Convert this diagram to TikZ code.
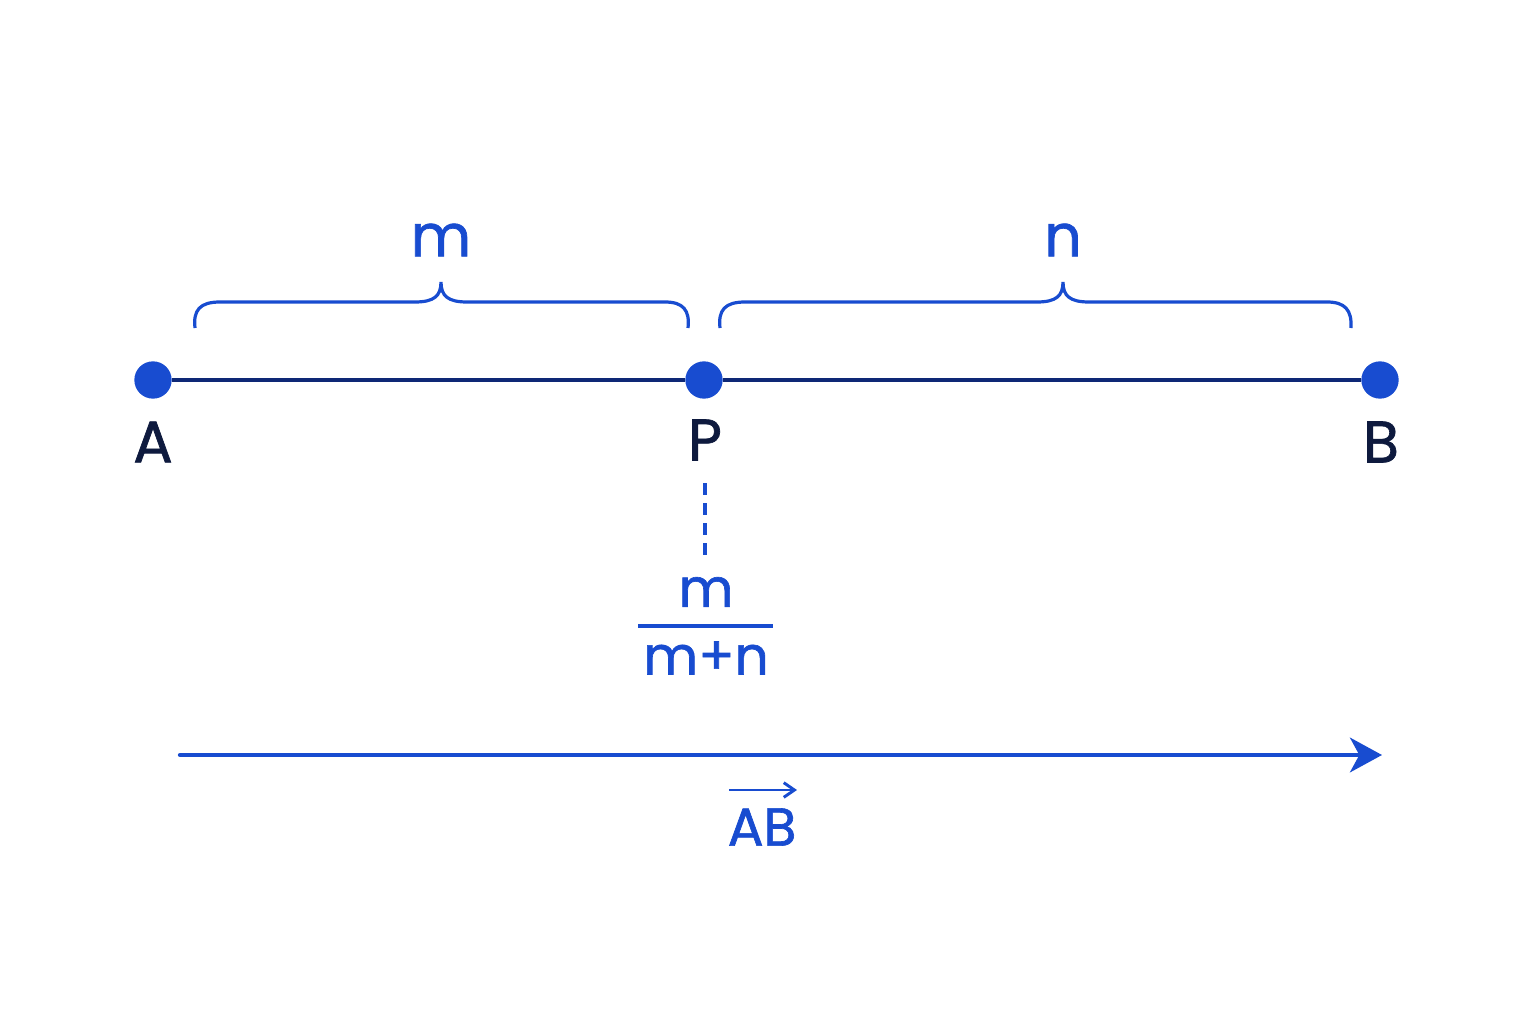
\documentclass[tikz,border=0pt]{standalone}
\usepackage{fontspec}
\setmainfont{Poppins}[AutoFakeBold=1.2]
\usetikzlibrary{arrows.meta}
\definecolor{ptblue}{RGB}{24,76,208}
\definecolor{segnavy}{RGB}{14,40,118}
\definecolor{lblnavy}{RGB}{14,26,62}
\tikzset{every picture/.style={line width=0.75pt}}
\tikzset{
  pt/.style={circle,fill=ptblue,inner sep=0pt,minimum size=28},
  lbl/.style={text=lblnavy,inner sep=0.75pt,font=\fontsize{44}{46}\selectfont\bfseries},
  blu/.style={text=ptblue,inner sep=0.75pt,font=\fontsize{44}{46}\selectfont\bfseries},
  brace/.style={draw=ptblue,line width=2.4pt},
}
\begin{document}
\begin{tikzpicture}[x=0.75pt,y=0.75pt,yscale=-1,xscale=1]
\useasboundingbox[fill=white] (0,0) rectangle (1536,1024);

% Points
\node[pt] (A) at (153,380) {};
\node[pt] (P) at (704,380) {};
\node[pt] (B) at (1380,380) {};
%Straight Lines
\draw[segnavy,line width=3.4pt] (A) -- (P) -- (B);

% Text Node
\node[lbl] (lA) at (153,442) {A};
\node[lbl] (lP) at (705,440) {P};
\node[lbl] (lB) at (1381,442) {B};

%Braces
\draw[brace] (195,328) .. controls (193,310) and (200,302) .. (220,302) -- (415,302) .. controls (434,302) and (441,296) .. (441,282) .. controls (441,296) and (448,302) .. (467,302) -- (665,302) .. controls (683,302) and (690,310) .. (688,328);
\draw[brace] (720,328) .. controls (718,310) and (725,302) .. (745,302) -- (1037,302) .. controls (1056,302) and (1063,296) .. (1063,282) .. controls (1063,296) and (1070,302) .. (1089,302) -- (1327,302) .. controls (1345,302) and (1352,310) .. (1351,328);
% Text Node
\node[blu] (m) at (441,240) {m};
\node[blu] (n) at (1063,240) {n};

% Fraction
\coordinate (dtop) at (705,483);
\node[blu,font=\fontsize{40}{42}\selectfont\bfseries] (fm) at (706,592) {m};
\node[blu,font=\fontsize{40}{42}\selectfont\bfseries] (fmn) at (706,658) {m+n};
\draw[ptblue,line width=2.4pt,dash pattern={on 9pt off 6pt}] (dtop) -- (705,558);
\draw[ptblue,line width=2.8pt] (638,626) -- (773,626);

%Vector arrow
\coordinate (vs) at (180,755);
\coordinate (ve) at (1382,755);
\draw[ptblue,line width=3.2pt,line cap=round,-{Stealth[length=24pt,width=26pt,inset=7pt]}] (vs) -- (ve);
\node[blu,font=\fontsize{40}{42}\selectfont\bfseries] (ab) at (762,827) {AB};
\draw[ptblue,line width=2.2pt,-{Straight Barb[length=8pt,width=11pt]}] (729,790) -- (797,790);
\end{tikzpicture}
\end{document}
